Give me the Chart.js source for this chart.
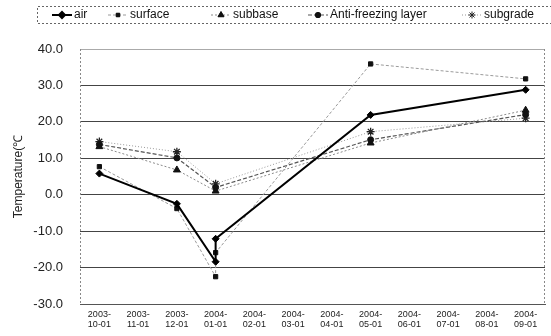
<!DOCTYPE html>
<html>
<head>
<meta charset="utf-8">
<script src="https://cdn.jsdelivr.net/npm/chart.js@4.4.0/dist/chart.umd.min.js"></script>
<style>
  html, body { margin: 0; padding: 0; background: #fff; }
  #wrap { width: 551px; height: 336px; position: relative; }
</style>
</head>
<body>
<div id="wrap"><canvas id="c" width="551" height="336"></canvas></div>
<script>
// ---- data ----
const categories = ['2003-10-01','2003-11-01','2003-12-01','2004-01-01','2004-02-01','2004-03-01',
                    '2004-04-01','2004-05-01','2004-06-01','2004-07-01','2004-08-01','2004-09-01'];
const yTicks = [-30, -20, -10, 0, 10, 20, 30, 40];

const airDates = ['2003-10-01','2003-12-01','2004-01-01','2004-01-01','2004-05-01','2004-09-01'];
const airValues = [5.8, -2.5, -18.4, -12.1, 21.9, 28.8];

const surfaceDates = ['2003-10-01','2003-12-01','2004-01-01','2004-01-01','2004-05-01','2004-09-01'];
const surfaceValues = [7.7, -3.8, -22.5, -15.9, 35.9, 31.8];

const layerDates = ['2003-10-01','2003-12-01','2004-01-01','2004-05-01','2004-09-01'];
const subbaseValues = [13.2, 6.8, 1.0, 14.2, 23.2];
const antiValues = [13.8, 10.1, 2.0, 15.1, 22.0];
const subgradeValues = [14.6, 11.8, 3.0, 17.3, 21.0];

const seriesNames = ['air', 'surface', 'subbase', 'Anti-freezing layer', 'subgrade'];

function pts(dates, vals) { return dates.map((d, i) => ({ x: d, y: vals[i] })); }

const FONT = '"Liberation Sans", Arial, sans-serif';

const datasets = [
  { label: seriesNames[0], data: pts(airDates, airValues), borderColor: '#000', backgroundColor: '#000',
    borderWidth: 2, pointStyle: 'rectRot', pointRadius: 3.5, borderDash: [] },
  { label: seriesNames[1], data: pts(surfaceDates, surfaceValues), borderColor: '#9a9a9a', backgroundColor: '#111',
    pointBorderColor: '#111', borderWidth: 1, pointStyle: 'rect', pointRadius: 3, borderDash: [3, 2] },
  { label: seriesNames[2], data: pts(layerDates, subbaseValues), borderColor: '#8a8a8a', backgroundColor: '#111',
    pointBorderColor: '#111', borderWidth: 1, pointStyle: 'triangle', pointRadius: 4, borderDash: [2, 2] },
  { label: seriesNames[3], data: pts(layerDates, antiValues), borderColor: '#555', backgroundColor: '#111',
    pointBorderColor: '#111', borderWidth: 1.2, pointStyle: 'circle', pointRadius: 3, borderDash: [4, 2] },
  { label: seriesNames[4], data: pts(layerDates, subgradeValues), borderColor: '#999', backgroundColor: '#222',
    pointBorderColor: '#222', borderWidth: 1, pointStyle: 'star', pointRadius: 4, pointBorderWidth: 1.3, borderDash: [1, 2] }
];
datasets.forEach(d => { d.tension = 0; d.fill = false; d.pointBorderWidth = d.pointBorderWidth || 1; });

// legend layout (style only)
const legendItemX = [52, 108, 211, 308, 462];

const framePlugin = {
  id: 'frame',
  afterDraw(chart) {
    const ctx = chart.ctx, a = chart.chartArea;
    ctx.save();
    ctx.strokeStyle = '#888';
    ctx.lineWidth = 1;
    ctx.setLineDash([2, 2]);
    ctx.beginPath();
    ctx.moveTo(Math.round(a.left) + 0.5, a.top); ctx.lineTo(Math.round(a.left) + 0.5, a.bottom);
    ctx.moveTo(Math.round(a.right) - 0.5, a.top); ctx.lineTo(Math.round(a.right) - 0.5, a.bottom);
    ctx.stroke();
    // legend box
    ctx.strokeStyle = '#666';
    ctx.beginPath();
    ctx.moveTo(552, 6.5); ctx.lineTo(37.5, 6.5); ctx.lineTo(37.5, 23.5); ctx.lineTo(552, 23.5);
    ctx.stroke();
    ctx.restore();

    // legend items
    const cy = 15;
    chart.data.datasets.forEach((ds, i) => {
      const x0 = legendItemX[i];
      ctx.save();
      ctx.strokeStyle = ds.borderColor;
      ctx.lineWidth = ds.borderWidth;
      ctx.setLineDash(ds.borderDash || []);
      ctx.beginPath(); ctx.moveTo(x0, cy); ctx.lineTo(x0 + 20, cy); ctx.stroke();
      ctx.setLineDash([]);
      ctx.fillStyle = ds.backgroundColor;
      ctx.strokeStyle = ds.pointBorderColor || ds.borderColor;
      if (Chart.helpers && Chart.helpers.drawPoint) {
        Chart.helpers.drawPoint(ctx, { pointStyle: ds.pointStyle, radius: ds.pointRadius - 0.5, rotation: 0,
          borderWidth: ds.pointBorderWidth }, x0 + 10, cy);
        if (ds.pointStyle !== 'star') ctx.fill();
      }
      ctx.fillStyle = '#111';
      ctx.font = '12px ' + FONT;
      ctx.textBaseline = 'middle';
      ctx.fillText(ds.label, x0 + 22, cy);
      ctx.restore();
    });
  }
};

new Chart(document.getElementById('c'), {
  type: 'line',
  data: { labels: categories, datasets },
  plugins: [framePlugin],
  options: {
    responsive: false,
    animation: false,
    events: [],
    layout: { padding: { top: 49, right: 6, left: 0, bottom: 0 } },
    plugins: { legend: { display: false }, tooltip: { enabled: false } },
    spanGaps: true,
    scales: {
      x: {
        type: 'category',
        offset: true,
        afterFit(s) { s.height = 32; },
        grid: { display: true, drawOnChartArea: false, drawTicks: false, color: '#666' },
        border: { display: true, color: '#555', width: 1 },
        ticks: {
          autoSkip: false, maxRotation: 0, minRotation: 0, padding: 5,
          color: '#222', font: { family: FONT, size: 9, lineHeight: 1.15 },
          callback(v, i) { const s = categories[i]; return [s.slice(0, 5), s.slice(5)]; }
        }
      },
      y: {
        min: yTicks[0], max: yTicks[yTicks.length - 1],
        afterFit(s) { s.width = 80; },
        afterBuildTicks(s) { s.ticks = yTicks.map(v => ({ value: v })); },
        grid: { drawTicks: false, lineWidth: 1,
                color: c => (c.tick && c.tick.value === 40) ? '#aaa' : '#444' },
        border: { display: false },
        ticks: { padding: 17, color: '#222', font: { family: FONT, size: 13 },
                 callback: v => Number(v).toFixed(1) },
        title: { display: true, text: 'Temperature(℃', color: '#222',
                 font: { family: FONT, size: 12 }, padding: { top: 11, bottom: 0 } }
      }
    }
  }
});
</script>
</body>
</html>
